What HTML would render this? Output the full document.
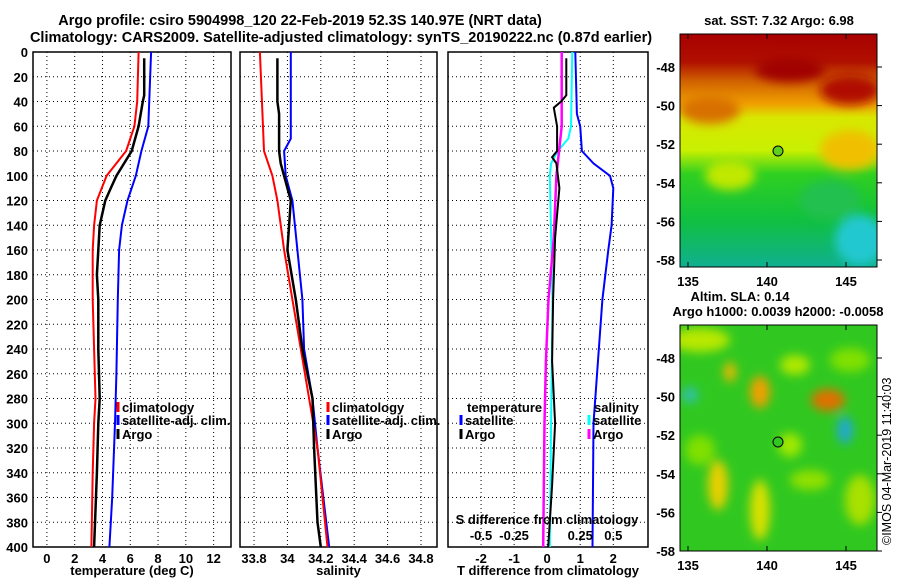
<!DOCTYPE html>
<html><head><meta charset="utf-8">
<style>
html,body{margin:0;padding:0;background:#fff;}
svg{display:block;font-family:"Liberation Sans",sans-serif;font-weight:bold;}
text{font-size:13px;fill:#000;}
text.ttl{font-size:14.5px;}
</style></head>
<body>
<svg id="c" width="900" height="580" viewBox="0 0 900 580">
<defs>
<linearGradient id="sst" x1="0" y1="0" x2="0" y2="1">
<stop offset="0" stop-color="#a80000"/><stop offset="0.12" stop-color="#b01000"/>
<stop offset="0.2" stop-color="#d06000"/><stop offset="0.3" stop-color="#f0a000"/>
<stop offset="0.36" stop-color="#d8e800"/><stop offset="0.5" stop-color="#c8f000"/>
<stop offset="0.6" stop-color="#30d020"/><stop offset="0.8" stop-color="#10c040"/>
<stop offset="1" stop-color="#10b090"/></linearGradient>
<filter id="bl"><feGaussianBlur stdDeviation="5"/></filter>
<clipPath id="c1"><rect x="680" y="34" width="197" height="233"/></clipPath>
<clipPath id="c2"><rect x="680" y="325" width="197" height="226"/></clipPath>
</defs>
<text class="ttl" x="300" y="25" text-anchor="middle">Argo profile: csiro 5904998_120 22-Feb-2019 52.3S 140.97E (NRT data)</text>
<text class="ttl" x="341" y="42" text-anchor="middle">Climatology: CARS2009. Satellite-adjusted climatology: synTS_20190222.nc (0.87d earlier)</text>
<g id="panels"></g>
<!-- SST map -->
<g clip-path="url(#c1)">
<rect x="680" y="34" width="197" height="233" fill="url(#sst)"/>
<g filter="url(#bl)">
<ellipse cx="710" cy="110" rx="30" ry="14" fill="#d87000"/>
<ellipse cx="850" cy="150" rx="30" ry="20" fill="#f0c000"/>
<ellipse cx="860" cy="240" rx="25" ry="25" fill="#20c8d0"/>
<ellipse cx="730" cy="175" rx="25" ry="15" fill="#c0e800"/>
<ellipse cx="790" cy="70" rx="35" ry="12" fill="#a00000"/>
<ellipse cx="850" cy="90" rx="30" ry="15" fill="#b01000"/>
<ellipse cx="830" cy="200" rx="30" ry="20" fill="#20c050"/>
</g>
<circle cx="778" cy="151" r="5" fill="#60d020" stroke="#000"/>
</g>
<rect x="680" y="34" width="197" height="233" fill="none" stroke="#000"/>
<text x="779" y="25" text-anchor="middle">sat. SST: 7.32 Argo: 6.98</text>
<!-- SLA map -->
<g clip-path="url(#c2)">
<rect x="680" y="325" width="197" height="226" fill="#30c820"/>
<g filter="url(#bl)">
<ellipse cx="700" cy="340" rx="30" ry="12" fill="#b8e800"/>
<ellipse cx="760" cy="392" rx="10" ry="16" fill="#f0a000"/>
<ellipse cx="730" cy="372" rx="6" ry="10" fill="#f0b800"/>
<ellipse cx="828" cy="400" rx="17" ry="11" fill="#e07000"/>
<ellipse cx="845" cy="430" rx="8" ry="14" fill="#20a8d0"/>
<ellipse cx="690" cy="395" rx="8" ry="8" fill="#30c0b0"/>
<ellipse cx="718" cy="485" rx="10" ry="25" fill="#e8d000"/>
<ellipse cx="760" cy="510" rx="10" ry="30" fill="#d8e000"/>
<ellipse cx="795" cy="365" rx="15" ry="10" fill="#b0e800"/>
<ellipse cx="860" cy="500" rx="15" ry="25" fill="#a8e000"/>
<ellipse cx="810" cy="480" rx="20" ry="10" fill="#90e000"/>
<ellipse cx="700" cy="450" rx="15" ry="15" fill="#80e000"/>
<ellipse cx="790" cy="445" rx="12" ry="12" fill="#a0e800"/>
<ellipse cx="850" cy="360" rx="20" ry="12" fill="#80e000"/>
</g>
<circle cx="778" cy="442" r="5" fill="#30c820" stroke="#000"/>
</g>
<rect x="680" y="325" width="197" height="226" fill="none" stroke="#000"/>
<text x="740" y="301" text-anchor="middle">Altim. SLA: 0.14</text>
<text x="778" y="316" text-anchor="middle">Argo h1000: 0.0039 h2000: -0.0058</text>
<text transform="translate(891,545) rotate(-90)" style="font-weight:normal;font-size:12.5px">©IMOS 04-Mar-2019 11:40:03</text>
<g id="maps"></g>
</svg>
<script>
// ---- data ----
var depthsTclim=[0,40,60,80,100,120,140,160,200,240,280,300,340,400];
var tClim=[6.6,6.5,6.3,5.7,4.3,3.6,3.4,3.3,3.3,3.4,3.5,3.4,3.3,3.2];
var depthsTargo=[5,35,40,60,80,100,110,120,140,160,180,200,240,280,300,340,400];
var tArgo=[7.0,7.0,6.9,6.6,6.1,5.0,4.6,4.2,3.8,3.7,3.6,3.7,3.7,3.8,3.7,3.6,3.4];
var depthsTsat=[0,60,80,100,120,140,160,200,260,300,360,400];
var tSat=[7.5,7.3,6.8,6.4,5.8,5.4,5.2,5.1,5.0,4.9,4.7,4.5];
var depthsS=[0,80,100,120,160,200,240,280,320,400];
var sClim=[33.835,33.86,33.91,33.94,33.98,34.03,34.08,34.13,34.18,34.24];
var depthsSargo=[5,40,50,80,90,120,160,200,240,280,320,380,400];
var sArgo=[33.94,33.94,33.95,33.95,33.96,34.02,34.0,34.05,34.09,34.15,34.16,34.18,34.2];
var depthsSsat=[0,70,80,100,120,160,200,240,280,320,400];
var sSat=[34.02,34.02,33.98,33.99,34.03,34.06,34.09,34.1,34.15,34.18,34.25];
var depthsDT=[0,50,60,80,90,100,110,140,160,200,300,400];
var dTsat=[0.85,0.9,1.0,1.05,1.4,1.9,2.0,1.95,1.85,1.67,1.4,1.37];
var depthsDTargo=[5,35,40,45,60,80,85,90,110,150,200,250,300,350,400];
var dTargo=[0.58,0.58,0.42,0.2,0.3,0.3,0.15,0.28,0.37,0.24,0.18,0.15,0.24,0.15,0.03];
var depthsDS=[0,60,70,80,90,100,200,300,400];
var dSsat=[0.19,0.18,0.16,0.08,0.03,0.02,0.04,0.03,0.02];
var depthsDSargo=[0,60,100,150,200,250,300,400];
var dSargo=[0.11,0.11,0.07,0.05,0.01,-0.01,-0.02,-0.03];
var depthTicks=[0,20,40,60,80,100,120,140,160,180,200,220,240,260,280,300,320,340,360,380,400];
var tTicks=[0,2,4,6,8,10,12];
var sTicks=[33.8,34,34.2,34.4,34.6,34.8];
var sTickLabels=["33.8","34","34.2","34.4","34.6","34.8"];
var dTTicks=[-2,-1,0,1,2];
var dSTicks=[-0.5,-0.25,0,0.25,0.5];
var dSTickLabels=["-0.5","-0.25","","0.25","0.5"];
var lonTicks=[135,140,145];
var latTicks=[-48,-50,-52,-54,-56,-58];

var NS="http://www.w3.org/2000/svg";
var P=document.getElementById('panels');
function mk(tag,attrs,parent){var e=document.createElementNS(NS,tag);for(var k in attrs)e.setAttribute(k,attrs[k]);(parent||P).appendChild(e);return e;}
var Y0=52,Y1=547;
function yD(d){return Y0+(Y1-Y0)*d/400;}
function panel(x0,x1,vmin,vmax,ticks,labels,xlabel,name){
  var g=mk('g',{});
  
  
  function xs(v){return x0+(x1-x0)*(v-vmin)/(vmax-vmin);}
  ticks.forEach(function(t,i){var x=xs(t);
    var l=mk('line',{x1:x,x2:x,y1:Y0,y2:Y1,stroke:'#000','stroke-dasharray':'1,3','stroke-width':1},g);
    
    var tx=mk('text',{x:x,y:Y1+16,'text-anchor':'middle'},g);tx.textContent=labels[i];
    });
  depthTicks.forEach(function(d){var y=yD(d);
    var l=mk('line',{x1:x0,x2:x1,y1:y,y2:y,stroke:'#000','stroke-dasharray':'1,3'},g);
    });
  var r=mk('rect',{x:x0,y:Y0,width:x1-x0,height:Y1-Y0,fill:'none',stroke:'#000','stroke-width':1.5},g);
  
  var xl=mk('text',{x:(x0+x1)/2,y:575,'text-anchor':'middle'},g);xl.textContent=xlabel;
  
  return {g:g,xs:xs};
}
function line(p,ds,vs,col,w,name){
  var s='';for(var i=0;i<ds.length;i++){s+=(i?'L':'M')+p.xs(vs[i]).toFixed(1)+','+yD(ds[i]).toFixed(1);}
  var e=mk('path',{d:s,fill:'none',stroke:col,'stroke-width':w},p.g);
  
}
function leg(x,y,col,txt,name){
  var l=mk('line',{x1:x,x2:x,y1:y-10,y2:y,stroke:col,'stroke-width':3});
  
  var t=mk('text',{x:x+4,y:y});t.textContent=txt;
  
}
depthTicks.forEach(function(d){var t=mk('text',{x:28,y:yD(d)+5,'text-anchor':'end'});t.textContent=d;
  });

var p1=panel(33,231,-1,13.25,tTicks,tTicks.map(String),'temperature (deg C)','temperature-panel');
line(p1,depthsTsat,tSat,'#0000ff',2,'satellite-adj-temperature-line');
line(p1,depthsTclim,tClim,'#ff0000',2,'climatology-temperature-line');
line(p1,depthsTargo,tArgo,'#000',2.5,'argo-temperature-line');
leg(118,412,'#ff0000','climatology','legend-climatology');
leg(118,425,'#0000ff','satellite-adj. clim.','legend-satellite-adj');
leg(118,439,'#000','Argo','legend-argo');

var p2=panel(240,437,33.716,34.896,sTicks,sTickLabels,'salinity','salinity-panel');
line(p2,depthsSsat,sSat,'#0000ff',2,'satellite-adj-salinity-line');
line(p2,depthsS,sClim,'#ff0000',2,'climatology-salinity-line');
line(p2,depthsSargo,sArgo,'#000',2.5,'argo-salinity-line');
leg(328,412,'#ff0000','climatology','legend-climatology-s');
leg(328,425,'#0000ff','satellite-adj. clim.','legend-satellite-adj-s');
leg(328,439,'#000','Argo','legend-argo-s');

var p3=panel(448,648,-3,3.05,dTTicks,dTTicks.map(String),'T difference from climatology','difference-panel');
function sx(v){return v*4;}
line(p3,depthsDT,dTsat,'#0000ff',2,'satellite-t-diff-line');
line(p3,depthsDS,dSsat.map(sx),'#00ffff',2,'satellite-s-diff-line');
line(p3,depthsDSargo,dSargo.map(sx),'#ff00ff',2.5,'argo-s-diff-line');
line(p3,depthsDTargo,dTargo,'#000',2,'argo-t-diff-line');
var lt=mk('text',{x:467,y:412});lt.textContent='temperature';
leg(461,425,'#0000ff','satellite','legend-t-satellite');
leg(461,439,'#000','Argo','legend-t-argo');
var ls=mk('text',{x:594,y:412});ls.textContent='salinity';
leg(589,425,'#00ffff','satellite','legend-s-satellite');
leg(589,439,'#ff00ff','Argo','legend-s-argo');
var sd=mk('text',{x:547,y:524,'text-anchor':'middle'});sd.textContent='S difference from climatology';

dSTicks.forEach(function(v,i){var t=mk('text',{x:p3.xs(v*4),y:540,'text-anchor':'middle'});t.textContent=dSTickLabels[i];
  });

var M=document.getElementById('maps');
function lonX(l){return 688+(l-135)*15.8;}
function mapAxes(ytop,y48,ybot,lblY){
  lonTicks.forEach(function(l){var x=lonX(l);
    var a=mk('line',{x1:x,x2:x,y1:ybot,y2:ybot-5,stroke:'#000'},M);
    var b=mk('line',{x1:x,x2:x,y1:ytop,y2:ytop+5,stroke:'#000'},M);
    var t=mk('text',{x:x,y:lblY,'text-anchor':'middle'},M);t.textContent=l;});
  latTicks.forEach(function(l){var y=y48+(-48-l)*19.3;
    var a=mk('line',{x1:877,x2:882,y1:y,y2:y,stroke:'#000'},M);
    var t=mk('text',{x:675,y:y+5,'text-anchor':'end'},M);t.textContent=l;});
}
mapAxes(34,67,267,286);
mapAxes(325,358,551,570);
</script>
</body></html>
